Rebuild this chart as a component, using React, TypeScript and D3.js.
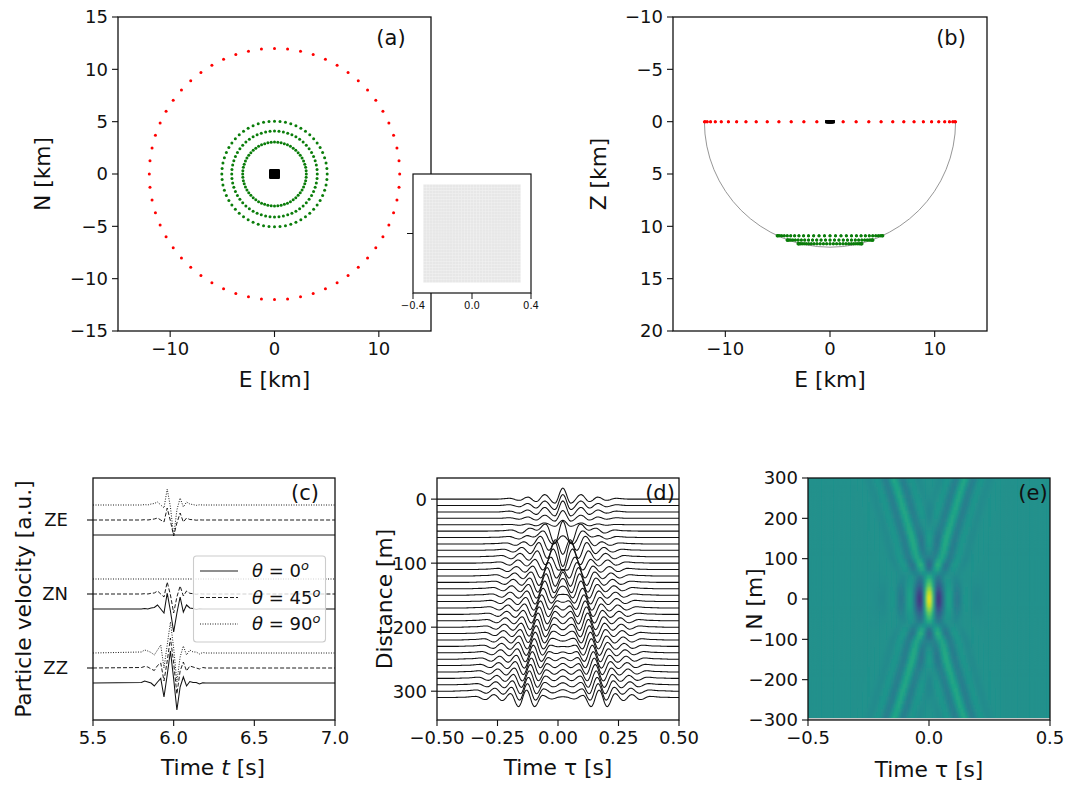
import React from "react";
import * as d3 from "d3";

const FONT = "DejaVu Sans, sans-serif";
const TICK_FS = 18;
const LABEL_FS = 21.8;
const TAG_FS = 21;

// (a)/(b) station geometry, km
const redRadius = 12;
const greenRadii = [3.05, 4.1, 5.05];
const greenDepths = [11.67, 11.3, 10.9];
const ringCount = 60;
const gridCoordinatesKm = d3.range(-0.32, 0.3201, 0.02);

// (c) waveforms
const cTimes = [5.8, 5.82, 5.84, 5.86, 5.88, 5.9, 5.92, 5.94, 5.96, 5.98, 6.0, 6.02, 6.04, 6.06, 6.08, 6.1, 6.12, 6.14, 6.16, 6.18, 6.2];
const zeTheta0 = new Array(21).fill(0);
const zeTheta45 = [0, 0.3, 0, 0.5, 1, 2, 0, -2, 12, -1, -16, -3, 7, -2, 2, 0.5, 0.3, -0.2, 0.1, 0, 0];
const zeTheta90 = [0, 0.4, 0, 1, 1.5, 3, 0, -3, 16, -2, -31, -5, 7, -2, 3, 1, 0.4, -0.3, 0.2, 0, 0];
const znTheta0 = [0, 0.5, 0, 1, 1.5, 4, 0, -4, 16, -2, -23, -4, 12, -3, 4, 1, 0.5, -0.5, 0.3, 0, 0];
const znTheta45 = [0, 0.3, 0, 0.7, 1, 3, 0, -3, 12, -1, -19, -3, 8, -2, 3, 0.7, 0.3, -0.3, 0.2, 0, 0];
const znTheta90 = new Array(21).fill(0);
const zzTheta0 = [0.5, 2, 1, 0, -3, 1, 4.5, -14, 8, 32, 4, -27, -4, 6, -3, 1.5, 0.5, 0.5, -1, 0.3, 0];
const zzTheta45 = [0.5, 1.5, 1, -1, -2.5, 2.5, 5, -13, 7, 30, 5, -26, -3, 6, -3, 2, 1, 0, -1, 0.5, 0];
const zzTheta90 = [1, 3, 2, 0.5, -2, 3, 8, -15, 8, 31, 5, -29, -4, 7, -2, 3, 1, 1, -1, 0.5, 0];
const cGroupNames = ["ZE", "ZN", "ZZ"];
const cGroupLevels = [148, 74, 0];
const cThetaLevels = [-15, 0, 15];
const cThetaNames = ["0", "45", "90"];
const cDashes = ["", "4 2", "1 1.5"];
const cSeries = [[zeTheta0, zeTheta45, zeTheta90], [znTheta0, znTheta45, znTheta90], [zzTheta0, zzTheta45, zzTheta90]];

// (d) record section
const dDistances = d3.range(0, 311, 10);
const stackCentre = 0.02;
const topLagAnchors = [-0.3, -0.27, -0.22, -0.18, -0.145, -0.11, -0.075, -0.033, 0, 0.033, 0.075, 0.11, 0.145, 0.18, 0.22, 0.27, 0.3];
const topAmpAnchors = [0, 0, 0.8, -1.2, 2, -2.5, 4.5, -4, 11, -4, 4.5, -2.5, 2, -1.2, 0.8, 0, 0];
const splitLagAnchors = [-0.32, -0.26, -0.21, -0.17, -0.135, -0.1, -0.066, -0.033, 0, 0.033, 0.066, 0.1, 0.135, 0.17, 0.21, 0.26, 0.32];
const splitAmpAnchors = [0, 0.4, 1.2, -2, 3, -3, 4, -9, 7.5, -9, 2, -1.5, 1.2, -0.8, 0.4, 0, 0];
const humpLagAnchors = [-0.14, -0.09, -0.045, 0, 0.045, 0.09, 0.14];
const humpAmpAnchors = [0, 5, 0, 0, 0, 5, 0];
const dTopWeight = [1, 1, 1, 0.7, 0.4, 0, 0, 0, 0, 0, 0, 0, 0, 0, 0, 0, 0, 0, 0, 0, 0, 0, 0, 0, 0, 0, 0, 0, 0, 0, 0, 0];
const dSplitWeight = [0, 0, 0, 0, 0, 0.72, 0.78, 0.85, 0.9, 1, 1, 1, 1, 1, 1, 1, 1, 1, 1, 1, 1, 1, 1, 1, 1, 1, 1, 1, 1, 1, 1, 1];
const dHumpWeight = [0, 0, 0, 0, 0, 1, 1, 0.9, 0.7, 0.4, 0.2, 0, 0, 0, 0, 0, 0, 0, 0, 0, 0, 0, 0, 0, 0, 0, 0, 0, 0, 0, 0, 0];
const dLobeOffset = [0, 0, 0, 0, 0, 0.004, 0.014, 0.024, 0.033, 0.042, 0.05, 0.057, 0.064, 0.07, 0.076, 0.082, 0.087, 0.092, 0.097, 0.102, 0.106, 0.11, 0.114, 0.118, 0.122, 0.126, 0.13, 0.134, 0.138, 0.142, 0.146, 0.15];

// (e) image, one half of the mirrored field
const eRowN = [0, 10, 20, 30, 40, 50, 60, 70, 80, 90, 100, 125, 150, 175, 200, 225, 250, 275, 300];
const eCentreAmp = [1, 0.95, 0.82, 0.62, 0.38, 0.18, 0.06, 0, 0, 0, 0, 0, 0, 0, 0, 0, 0, 0, 0];
const eArmAmp = [0, 0, 0, 0, 0.2, 0.4, 0.6, 0.8, 0.9, 1, 1, 0.95, 0.9, 0.85, 0.85, 0.85, 0.85, 0.8, 0.8];
const eArmOffset = [0, 0, 0, 0, 0.004, 0.008, 0.016, 0.024, 0.032, 0.041, 0.05, 0.06, 0.07, 0.083, 0.095, 0.108, 0.12, 0.133, 0.147];
const eCentreLag = [-0.3, -0.25, -0.19, -0.15, -0.115, -0.08, -0.037, 0, 0.037, 0.08, 0.115, 0.15, 0.19, 0.25, 0.3];
const eCentreVal = [0, 0, -0.05, 0.05, -0.2, 0.16, -0.72, 1, -0.72, 0.16, -0.2, 0.05, -0.05, 0, 0];
const eArmLag = [-0.3, -0.19, -0.14, -0.1, -0.07, -0.034, 0, 0.034, 0.07, 0.1, 0.14, 0.19, 0.3];
const eArmVal = [0, 0, 0.02, -0.05, 0.06, -0.19, 0.24, -0.19, 0.06, -0.05, 0.02, 0, 0];
const eTaus = d3.range(-0.5, 0.5, 0.01);
const eNs = d3.range(-300, 300, 10);

const mathLabel = (v: number, fmt?: (n: number) => string) => {
  const s = fmt ? fmt(v) : String(Math.abs(v));
  return v < 0 ? "\u2212" + (fmt ? fmt(-v) : s) : s;
};

function smoothLookup(xs: number[], ys: number[]) {
  return (x: number) => {
    if (x <= xs[0] || x >= xs[xs.length - 1]) return 0;
    const i = d3.bisectRight(xs, x) - 1;
    const s = (x - xs[i]) / (xs[i + 1] - xs[i]);
    return ys[i] + ((ys[i + 1] - ys[i]) * (1 - Math.cos(Math.PI * s))) / 2;
  };
}

function Axes({ x, y, xTicks, yTicks, xFmt, yFmt, yNames, fs = TICK_FS, hideY = false, len = 6, sw = 1.3 }: any) {
  const [x0, x1] = x.range();
  const [y0, y1] = y.range();
  const bottom = Math.max(y0, y1), top = Math.min(y0, y1);
  return (
    <g fontFamily={FONT} fontSize={fs} fill="#111">
      <rect x={x0} y={top} width={x1 - x0} height={bottom - top} fill="none" stroke="#111" strokeWidth={sw} />
      {xTicks.map((t: number) => (
        <g key={t}>
          <line x1={x(t)} x2={x(t)} y1={bottom} y2={bottom + len} stroke="#111" strokeWidth={sw * 0.85} />
          <text x={x(t)} y={bottom + len + fs * 1.02} textAnchor="middle">{mathLabel(t, xFmt)}</text>
        </g>
      ))}
      {yTicks.map((t: number, i: number) => (
        <g key={t}>
          <line x1={x0} x2={x0 - len} y1={y(t)} y2={y(t)} stroke="#111" strokeWidth={sw * 0.85} />
          {!hideY && <text x={yNames ? x0 - 25 : x0 - len - 4} y={y(t) + fs * 0.36} textAnchor="end">{yNames ? yNames[i] : mathLabel(t, yFmt)}</text>}
        </g>
      ))}
    </g>
  );
}

const Tag = ({ x, y, t }: any) => <text x={x} y={y} fontFamily={FONT} fontSize={TAG_FS} fill="#111" textAnchor="middle">{t}</text>;
const XLabel = ({ x, y, children }: any) => <text x={x} y={y} fontFamily={FONT} fontSize={LABEL_FS} fill="#111" textAnchor="middle">{children}</text>;
const YLabel = ({ x, y, children }: any) => <text transform={`translate(${x},${y}) rotate(-90)`} fontFamily={FONT} fontSize={LABEL_FS} fill="#111" textAnchor="middle">{children}</text>;

function PanelA() {
  const x = d3.scaleLinear().domain([-15, 15]).range([118, 431]);
  const y = d3.scaleLinear().domain([-15, 15]).range([331, 17]);
  const ix = d3.scaleLinear().domain([-0.4, 0.4]).range([413, 531]);
  const iy = d3.scaleLinear().domain([-0.4, 0.4]).range([293, 174]);
  const angles = d3.range(ringCount).map((i) => (i * 2 * Math.PI) / ringCount);
  return (
    <g>
      <rect x={118} y={17} width={313} height={314} fill="#fff" />
      {angles.map((a, i) => <circle key={i} cx={x(redRadius * Math.cos(a))} cy={y(redRadius * Math.sin(a))} r={1.5} fill="#f00" />)}
      {greenRadii.map((r) => angles.map((a, i) => <circle key={r + "-" + i} cx={x(r * Math.cos(a))} cy={y(r * Math.sin(a))} r={1.5} fill="#0a7d0a" />))}
      {gridCoordinatesKm.map((gx) => gridCoordinatesKm.map((gy) => <rect key={gx + "," + gy} x={x(gx) - 1.5} y={y(gy) - 1.5} width={3} height={3} fill="#000" />))}
      <Axes x={x} y={y} xTicks={[-10, 0, 10]} yTicks={[-15, -10, -5, 0, 5, 10, 15]} />
      <XLabel x={274.5} y={387}>E [km]</XLabel>
      <YLabel x={50} y={174}>N [km]</YLabel>
      <Tag x={391} y={45} t="(a)" />
      <rect x={413} y={174} width={118} height={119} fill="#fff" />
      {gridCoordinatesKm.map((gx) => gridCoordinatesKm.map((gy) => <rect key={gx + "i" + gy} x={ix(gx) - 1.4} y={iy(gy) - 1.4} width={2.8} height={2.8} fill="#d8d8d8" fillOpacity={0.62} />))}
      <Axes x={ix} y={iy} xTicks={[-0.4, 0, 0.4]} yTicks={[0]} xFmt={(v: number) => v.toFixed(1)} fs={10} hideY len={6} sw={1.2} />
    </g>
  );
}

function PanelB() {
  const x = d3.scaleLinear().domain([-15, 15]).range([673, 987]);
  const y = d3.scaleLinear().domain([-10, 20]).range([17, 331]);
  const angles = d3.range(ringCount).map((i) => (i * 2 * Math.PI) / ringCount);
  return (
    <g>
      <path d={`M${x(-redRadius)},${y(0)} A${x(redRadius) - x(0)},${y(redRadius) - y(0)} 0 0 0 ${x(redRadius)},${y(0)}`} fill="none" stroke="#8a8a8a" strokeWidth={0.9} />
      {angles.map((a, i) => <circle key={i} cx={x(redRadius * Math.cos(a))} cy={y(0)} r={1.5} fill="#f00" />)}
      {greenRadii.map((r, k) => angles.map((a, i) => <circle key={r + "-" + i} cx={x(r * Math.cos(a))} cy={y(greenDepths[k])} r={1.5} fill="#0a7d0a" />))}
      {gridCoordinatesKm.map((gx) => <rect key={gx} x={x(gx) - 1.5} y={y(0) - 1.5} width={3} height={3} fill="#000" />)}
      <Axes x={x} y={y} xTicks={[-10, 0, 10]} yTicks={[-10, -5, 0, 5, 10, 15, 20]} />
      <XLabel x={830} y={387}>E [km]</XLabel>
      <YLabel x={606} y={174}>Z [km]</YLabel>
      <Tag x={951} y={45} t="(b)" />
    </g>
  );
}

function PanelC() {
  const x = d3.scaleLinear().domain([5.5, 7]).range([93, 335]);
  const y = d3.scaleLinear().domain([-52, 190]).range([720, 478]);
  const line = d3.line<[number, number]>().x((d) => x(d[0])).y((d) => y(d[1]));
  return (
    <g>
      <clipPath id="clipC"><rect x={93} y={478} width={242} height={242} /></clipPath>
      <g clipPath="url(#clipC)">
        {cSeries.map((group, g) => group.map((vals: number[], k: number) => {
          const base = cGroupLevels[g] + cThetaLevels[k];
          const pts: [number, number][] = [[5.5, base], ...cTimes.map((t, i) => [t, base + vals[i]] as [number, number]), [7, base]];
          return <path key={g + "-" + k} d={line(pts) as string} fill="none" stroke="#111" strokeWidth={k === 0 ? 1.05 : 0.95} strokeDasharray={cDashes[k]} />;
        }))}
      </g>
      <Axes x={x} y={y} xTicks={[5.5, 6, 6.5, 7]} yTicks={cGroupLevels} xFmt={(v: number) => v.toFixed(1)} yNames={cGroupNames} />
      <XLabel x={213} y={775}>Time <tspan fontStyle="italic">t</tspan> [s]</XLabel>
      <YLabel x={31} y={599}>Particle velocity [a.u.]</YLabel>
      <Tag x={305} y={500} t="(c)" />
      <rect x={193.5} y={556} width={132} height={86} rx={3} fill="#fff" fillOpacity={0.8} stroke="#ccc" strokeWidth={1.1} />
      {cThetaNames.map((name, i) => {
        const ly = 571 + i * 26.5;
        return (
          <g key={name}>
            <line x1={200} x2={238} y1={ly} y2={ly} stroke="#111" strokeWidth={0.95} strokeDasharray={cDashes[i]} />
            <text x={252} y={ly + 6} fontFamily={FONT} fontSize={18} fill="#111">
              <tspan fontStyle="italic">θ</tspan> = {name}
              <tspan fontStyle="italic" fontSize={13} dy={-7}>o</tspan>
            </text>
          </g>
        );
      })}
    </g>
  );
}

function PanelD() {
  const x = d3.scaleLinear().domain([-0.5, 0.5]).range([437, 679]);
  const y = d3.scaleLinear().domain([-33, 345]).range([478, 720]);
  const taus = d3.range(-0.5, 0.5001, 0.004);
  const topW = smoothLookup(topLagAnchors, topAmpAnchors);
  const splitW = smoothLookup(splitLagAnchors, splitAmpAnchors);
  const humpW = smoothLookup(humpLagAnchors, humpAmpAnchors);
  const line = d3.line<[number, number]>().x((d) => x(d[0])).y((d) => d[1]);
  return (
    <g>
      <clipPath id="clipD"><rect x={437} y={478} width={242} height={242} /></clipPath>
      <g clipPath="url(#clipD)">
        {dDistances.map((dist, i) => {
          const pts = taus.map((t) => {
            const u = t - stackCentre;
            const o = dLobeOffset[i];
            const v = dTopWeight[i] * topW(u) + dSplitWeight[i] * (splitW(u + o) + splitW(o - u)) + dHumpWeight[i] * humpW(u);
            return [t, y(dist) - v] as [number, number];
          });
          return <path key={dist} d={line(pts) as string} fill="none" stroke="#111" strokeWidth={1.05} />;
        })}
      </g>
      <Axes x={x} y={y} xTicks={[-0.5, -0.25, 0, 0.25, 0.5]} yTicks={[0, 100, 200, 300]} xFmt={(v: number) => v.toFixed(2)} />
      <XLabel x={558} y={775}>Time τ [s]</XLabel>
      <YLabel x={392} y={599}>Distance [m]</YLabel>
      <Tag x={660} y={500} t="(d)" />
    </g>
  );
}

function PanelE() {
  const x = d3.scaleLinear().domain([-0.5, 0.5]).range([808, 1050]);
  const y = d3.scaleLinear().domain([-300, 300]).range([720, 478]);
  const colour = d3.scaleSequential(d3.interpolateViridis).domain([-1, 1]);
  const centre = smoothLookup(eCentreLag, eCentreVal);
  const arm = smoothLookup(eArmLag, eArmVal);
  const centreAt = d3.scaleLinear().domain(eRowN).range(eCentreAmp);
  const armAt = d3.scaleLinear().domain(eRowN).range(eArmAmp);
  const offAt = d3.scaleLinear().domain(eRowN).range(eArmOffset);
  const cw = x(0.01) - x(0);
  const ch = y(0) - y(10);
  return (
    <g>
      <clipPath id="clipE"><rect x={808} y={478} width={242} height={240} /></clipPath>
      <filter id="soft" x="-5%" y="-5%" width="110%" height="110%"><feGaussianBlur stdDeviation="0.9" edgeMode="duplicate" /></filter>
      <rect x={808} y={478} width={242} height={242} fill="#c8c8c8" />
      <g clipPath="url(#clipE)">
        <rect x={808} y={478} width={242} height={240} fill={colour(0)} />
        <g filter="url(#soft)">
          {eNs.map((n) => eTaus.map((t) => {
            const an = Math.abs(n + 5);
            const u = t + 0.005 - 0.001;
            const o = offAt(an);
            const v = centreAt(an) * centre(u) + armAt(an) * (arm(u - o) + arm(u + o));
            return <rect key={n + "," + t} x={x(t)} y={y(n + 10)} width={cw + 0.3} height={ch + 0.3} fill={colour(v)} />;
          }))}
        </g>
      </g>
      <Axes x={x} y={y} xTicks={[-0.5, 0, 0.5]} yTicks={[-300, -200, -100, 0, 100, 200, 300]} xFmt={(v: number) => v.toFixed(1)} />
      <XLabel x={929} y={777}>Time τ [s]</XLabel>
      <YLabel x={762} y={599}>N [m]</YLabel>
      <Tag x={1033} y={500} t="(e)" />
    </g>
  );
}

export default function App() {
  return (
    <svg width={1067} height={786} style={{ position: "absolute", left: 0, top: 0, background: "#fff" }}>
      <PanelA />
      <PanelB />
      <PanelC />
      <PanelD />
      <PanelE />
    </svg>
  );
}
